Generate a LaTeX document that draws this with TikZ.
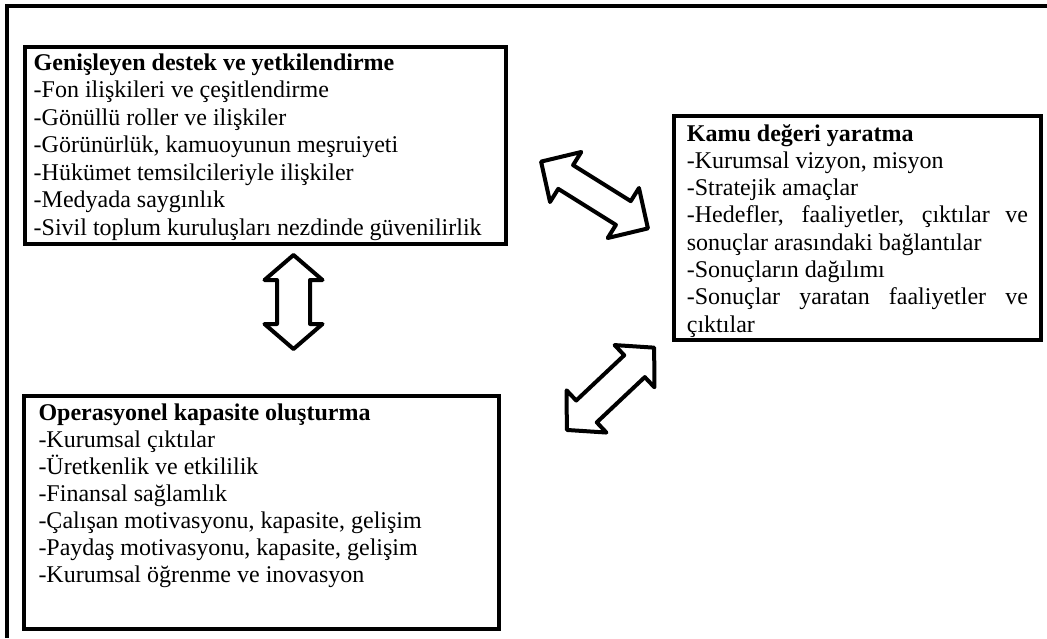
\documentclass[tikz,border=0pt]{standalone}
\usepackage{fontspec}
\setmainfont{Liberation Serif}
\begin{document}
\begin{tikzpicture}[x=1pt,y=-1pt,
  frame/.style={line width=3.8pt},
  boxstyle/.style={draw, line width=4pt, inner sep=0pt},
  txt/.style={anchor=base west, inner sep=0pt, font=\fontsize{24}{27}\selectfont},
  blockarrow/.style={draw, fill=white, line width=4pt, line join=round}]
\useasboundingbox (0,0) rectangle (1047,638);
\fill[white] (-3,-3) rectangle (1050,641);
% outer frame (cropped at right and bottom)
\draw[frame] (7.3,638) -- (7.3,5.7) -- (1047,5.7);
% boxes
\node[boxstyle, minimum width=481.3, minimum height=196.5] (box1) at (265.35,145.25) {};
\node[boxstyle, minimum width=366.8, minimum height=224.5] (box2) at (857.1,227.75) {};
\node[boxstyle, minimum width=475, minimum height=233.3] (box3) at (261.2,512.35) {};
% texts
\node[txt] (t1) at (33.5,70) {\fontsize{24}{27.5}\selectfont\parbox[t]{470pt}{%
\textbf{Genişleyen destek ve yetkilendirme}\\
-Fon ilişkileri ve çeşitlendirme\\
-Gönüllü roller ve ilişkiler\\
-Görünürlük, kamuoyunun meşruiyeti\\
-Hükümet temsilcileriyle ilişkiler\\
-Medyada saygınlık\\
-Sivil toplum kuruluşları nezdinde güvenilirlik}};
\node[txt] (t2) at (686.7,141) {\fontsize{24}{27.3}\selectfont\parbox[t]{341pt}{%
\textbf{Kamu değeri yaratma}\\
-Kurumsal vizyon, misyon\\
-Stratejik amaçlar\\
\makebox[\linewidth][s]{-Hedefler, faaliyetler, çıktılar ve}\\
sonuçlar arasındaki bağlantılar\\
-Sonuçların dağılımı\\
\makebox[\linewidth][s]{-Sonuçlar yaratan faaliyetler ve}\\
çıktılar}};
\node[txt] (t3) at (38.3,420.7) {\parbox[t]{450pt}{%
\textbf{Operasyonel kapasite oluşturma}\\
-Kurumsal çıktılar\\
-Üretkenlik ve etkililik\\
-Finansal sağlamlık\\
-Çalışan motivasyonu, kapasite, gelişim\\
-Paydaş motivasyonu, kapasite, gelişim\\
-Kurumsal öğrenme ve inovasyon}};
% block double arrows
\coordinate (a13) at (293.5,302);
\coordinate (a12) at (594.5,195);
\coordinate (a32) at (610.5,388.8);
\begin{scope}[shift={(a13)}, rotate=90]
\draw[blockarrow] (-47,0) -- (-22,-29) -- (-22,-16.5) -- (22,-16.5) -- (22,-29) -- (47,0)
  -- (22,29) -- (22,16.5) -- (-22,16.5) -- (-22,29) -- cycle;
\end{scope}
\begin{scope}[shift={(a12)}, rotate=-32]
\draw[blockarrow] (-63,0) -- (-34,-29.5) -- (-34,-14) -- (34,-14) -- (34,-29.5) -- (63,0)
  -- (34,29.5) -- (34,14) -- (-34,14) -- (-34,29.5) -- cycle;
\end{scope}
\begin{scope}[shift={(a32)}, rotate=43.3]
\draw[blockarrow] (-60,0) -- (-33,-29) -- (-33,-15) -- (33,-15) -- (33,-29) -- (60,0)
  -- (33,29) -- (33,15) -- (-33,15) -- (-33,29) -- cycle;
\end{scope}
\end{tikzpicture}
\end{document}
